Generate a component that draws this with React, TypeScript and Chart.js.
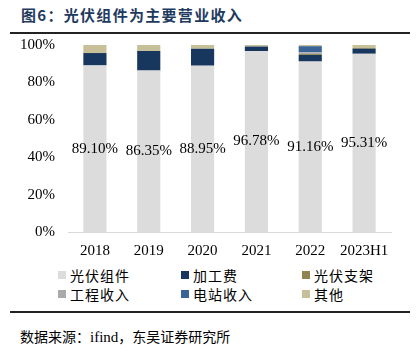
import React, { useEffect, useRef } from "react";
import { Chart, registerables } from "chart.js";

Chart.register(...registerables);

const categories = ["2018", "2019", "2020", "2021", "2022", "2023H1"];
const seriesNames = ["光伏组件", "加工费", "光伏支架", "工程收入", "电站收入", "其他"];
const moduleShare = [89.1, 86.35, 88.95, 96.78, 91.16, 95.31];
const processingFee = [6.6, 10.45, 9.05, 2.4, 3.5, 2.7];
const bracketShare = [0, 0, 0, 0, 0.5, 0.4];
const engineeringShare = [0, 0, 0, 0, 0.9, 0];
const stationShare = [0, 0, 0, 0, 3.3, 0];
const otherShare = [4.3, 3.2, 2.0, 0.82, 0.64, 1.59];
const moduleLabels = ["89.10%", "86.35%", "88.95%", "96.78%", "91.16%", "95.31%"];
const yTicks = [0, 20, 40, 60, 80, 100];
const seriesColors = ["#dcdcdc", "#17375e", "#8e8551", "#aaaaaa", "#3b6496", "#c6bf98"];

const serif = "'Liberation Serif', 'Times New Roman', serif";
const cjk = "'Noto Sans CJK SC', sans-serif";

export default function App() {
  const canvasRef = useRef<HTMLCanvasElement | null>(null);

  useEffect(() => {
    document.body.style.margin = "0";
    const ctx = canvasRef.current;
    if (!ctx) return;
    const values = [moduleShare, processingFee, bracketShare, engineeringShare, stationShare, otherShare];
    const labelPlugin = {
      id: "moduleLabels",
      afterDatasetsDraw(chart: any) {
        const meta = chart.getDatasetMeta(0);
        const c = chart.ctx;
        c.save();
        c.font = `15px ${serif}`;
        c.fillStyle = "#000";
        c.textAlign = "center";
        c.textBaseline = "middle";
        meta.data.forEach((bar: any, i: number) => {
          const { x, y, base } = bar.getProps(["x", "y", "base"], true);
          c.fillText(moduleLabels[i], x, (y + base) / 2);
        });
        c.restore();
      },
    };
    const chart = new Chart(ctx, {
      type: "bar",
      data: {
        labels: categories,
        datasets: seriesNames.map((name, i) => ({
          label: name,
          data: values[i],
          backgroundColor: seriesColors[i],
          borderWidth: 0,
          categoryPercentage: 1,
          barPercentage: 0.43,
        })),
      },
      options: {
        responsive: false,
        animation: false,
        layout: { padding: { left: 0, right: 28, top: 10, bottom: 0 } },
        plugins: {
          legend: { display: false },
          tooltip: { enabled: false },
          title: { display: false },
        },
        scales: {
          x: {
            stacked: true,
            grid: { display: false, drawTicks: false },
            border: { display: true, color: "#d9d9d9", width: 1 },
            ticks: { color: "#000", font: { family: serif, size: 15 }, padding: 10, maxRotation: 0 },
            afterFit: (s: any) => { s.height = 33; },
          },
          y: {
            stacked: true,
            min: 0,
            max: 100,
            grid: { display: false, drawTicks: false },
            border: { display: false },
            afterBuildTicks: (s: any) => { s.ticks = yTicks.map((v) => ({ value: v })); },
            ticks: {
              color: "#000",
              font: { family: serif, size: 15 },
              padding: 13,
              callback: (v: any) => `${v}%`,
            },
            afterFit: (s: any) => { s.width = 68; },
          },
        },
      },
      plugins: [labelPlugin],
    });
    return () => chart.destroy();
  }, []);

  const legendCols = [58, 181, 302];
  const legendRows = [275, 294];

  return (
    <div style={{ position: "relative", width: 419, height: 350, background: "#fff", overflow: "hidden" }}>
      <div style={{ position: "absolute", left: 21, top: 5, fontFamily: cjk, fontWeight: 700, fontSize: 15, color: "#1f3a5f", letterSpacing: 1.3, whiteSpace: "nowrap", lineHeight: "20px" }}>
        图6：光伏组件为主要营业收入
      </div>
      <div style={{ position: "absolute", left: 10, top: 32, width: 400, height: 2, background: "#222" }} />
      <canvas ref={canvasRef} width={419} height={242} style={{ position: "absolute", left: 0, top: 23, width: 419, height: 242 }} />
      {seriesNames.map((name, i) => {
        const col = i % 3;
        const row = Math.floor(i / 3);
        return (
          <div key={name} style={{ position: "absolute", left: legendCols[col], top: legendRows[row] - 10, height: 20, display: "flex", alignItems: "center", whiteSpace: "nowrap" }}>
            <span style={{ display: "inline-block", width: 8, height: 8, background: seriesColors[i], marginRight: 4 }} />
            <span style={{ fontFamily: cjk, fontSize: 14, color: "#000", letterSpacing: 1 }}>{name}</span>
          </div>
        );
      })}
      <div style={{ position: "absolute", left: 10, top: 311, width: 400, height: 2, background: "#222" }} />
      <div style={{ position: "absolute", left: 20, top: 326, fontFamily: cjk, fontSize: 14, color: "#000", whiteSpace: "nowrap", lineHeight: "20px" }}>
        数据来源：<span style={{ fontFamily: serif, fontSize: 15 }}>ifind</span>，东吴证券研究所
      </div>
    </div>
  );
}
